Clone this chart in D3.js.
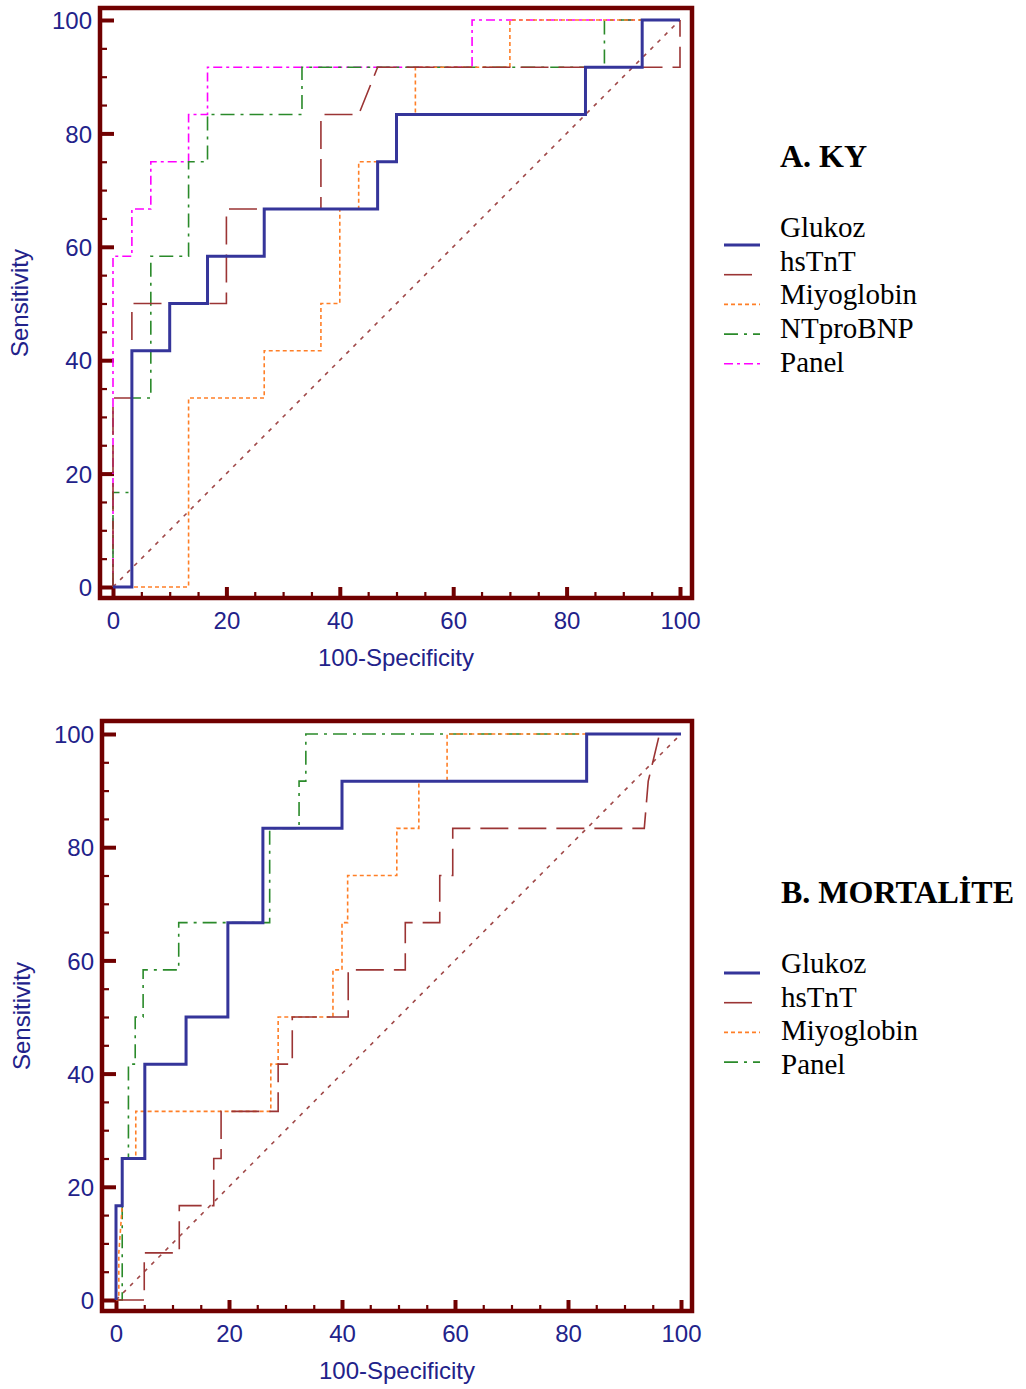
<!DOCTYPE html>
<html>
<head>
<meta charset="utf-8">
<script src="https://cdn.jsdelivr.net/npm/d3@7"></script>
<style>
  body { margin: 0; background: #fff; }
  text { font-family: "Liberation Sans", Arial, sans-serif; }
  text.serif { font-family: "Liberation Serif", "Times New Roman", serif; }
</style>
</head>
<body>
<div id="chart"></div>
<script>
// ROC curves, points are [100-Specificity, Sensitivity]

let ticksMajor = [0, 20, 40, 60, 80, 100];
let ticksMinor = d3.range(0, 101, 5);

// A. KY
let kyGlukoz = [[0,0],[3.33,0],[3.33,41.67],[10,41.67],[10,50],[16.67,50],[16.67,58.33],[26.67,58.33],
  [26.67,66.67],[46.67,66.67],[46.67,75],[50,75],[50,83.33],[83.33,83.33],[83.33,91.67],[93.33,91.67],
  [93.33,100],[100,100]];
let kyHsTnT = [[0,0],[0,33.33],[3.33,33.33],[3.33,50],[20,50],[20,66.67],[36.67,66.67],[36.67,83.33],
  [43.33,83.33],[46.67,91.67],[100,91.67],[100,100]];
let kyMiyoglobin = [[0,0],[13.33,0],[13.33,33.33],[26.67,33.33],[26.67,41.67],[36.67,41.67],[36.67,50],
  [40,50],[40,66.67],[43.33,66.67],[43.33,75],[50,75],[50,83.33],[53.33,83.33],[53.33,91.67],[70,91.67],
  [70,100],[100,100]];
let kyNTproBNP = [[0,0],[0,16.67],[3.33,16.67],[3.33,33.33],[6.67,33.33],[6.67,58.33],[13.33,58.33],
  [13.33,75],[16.67,75],[16.67,83.33],[33.33,83.33],[33.33,91.67],[86.67,91.67],[86.67,100],[100,100]];
let kyPanel = [[0,0],[0,58.33],[3.33,58.33],[3.33,66.67],[6.67,66.67],[6.67,75],[13.33,75],[13.33,83.33],
  [16.67,83.33],[16.67,91.67],[63.33,91.67],[63.33,100],[100,100]];

// B. MORTALİTE
let moGlukoz = [[0,0],[0,16.67],[1.1,16.67],[1.1,25],[5.1,25],[5.1,41.67],[12.4,41.67],[12.4,50],
  [19.8,50],[19.8,66.67],[26,66.67],[26,83.33],[40,83.33],[40,91.67],[83.3,91.67],[83.3,100],[100,100]];
let moHsTnT = [[0,0],[5,0],[5,8.33],[11.2,8.33],[11.2,16.67],[17.3,16.67],[17.3,25],[18.6,25],[18.6,33.33],
  [28.7,33.33],[28.7,41.67],[31.2,41.67],[31.2,50],[41.1,50],[41.1,58.33],[51.2,58.33],[51.2,66.67],
  [57.3,66.67],[57.3,75],[59.6,75],[59.6,83.33],[93.5,83.33],[94.2,91.67],[96.2,100],[100,100]];
let moMiyoglobin = [[0,0],[0.5,0],[0.5,8.33],[1.1,16.67],[1.1,25],[3.5,25],[3.5,33.33],[27.4,33.33],
  [27.4,41.67],[28.7,41.67],[28.7,50],[38.4,50],[38.4,58.33],[40,58.33],[40,66.67],[41,66.67],[41,75],
  [49.7,75],[49.7,83.33],[53.6,83.33],[53.6,91.67],[58.6,91.67],[58.6,100],[100,100]];
let moPanel = [[0,0],[1.1,0],[1.1,25],[2.2,25],[2.2,41.67],[3.4,41.67],[3.4,50],[4.8,50],[4.8,58.33],
  [11.1,58.33],[11.1,66.67],[27.2,66.67],[27.2,83.33],[32.4,83.33],[32.4,91.67],[33.6,91.67],[33.6,100],
  [100,100]];

let styles = {
  blue:    { color: "#35359a", width: 3,   dash: null },
  red:     { color: "#9b3434", width: 1.6, dash: "28,10" },
  orange:  { color: "#ff7f27", width: 1.6, dash: "4,3" },
  green:   { color: "#2a8a2a", width: 1.6, dash: "14,6,3,6" },
  magenta: { color: "#ff00ff", width: 1.6, dash: "9,4,3,4" }
};

let frameColor = "#700000";
let textColor = "#22228a";

let svg = d3.select("#chart").append("svg")
  .attr("width", 1026).attr("height", 1389);

function makeRoc(cfg)
{
  let g = svg.append("g");
  let xScale = d3.scaleLinear().domain([0, 100]).range(cfg.xRange);
  let yScale = d3.scaleLinear().domain([0, 100]).range(cfg.yRange);

  let left = cfg.frame[0], top = cfg.frame[1], right = cfg.frame[2], bottom = cfg.frame[3];

  // minor then major ticks, pointing into the plot
  let yMinor = g.append("g").attr("transform", "translate(" + left + ",0)")
    .call(d3.axisLeft(yScale).tickValues(ticksMinor).tickSize(-7).tickFormat(""));
  let yMajor = g.append("g").attr("transform", "translate(" + left + ",0)")
    .call(d3.axisLeft(yScale).tickValues(ticksMajor).tickSize(-14));
  let xMinor = g.append("g").attr("transform", "translate(0," + bottom + ")")
    .call(d3.axisBottom(xScale).tickValues(ticksMinor).tickSize(-6).tickFormat(""));
  let xMajor = g.append("g").attr("transform", "translate(0," + bottom + ")")
    .call(d3.axisBottom(xScale).tickValues(ticksMajor).tickSize(-11));

  [yMinor, yMajor, xMinor, xMajor].forEach(a => a.select(".domain").remove());
  yMinor.selectAll("line").attr("stroke", frameColor).attr("stroke-width", 2.2);
  xMinor.selectAll("line").attr("stroke", frameColor).attr("stroke-width", 2.2);
  yMajor.selectAll("line").attr("stroke", frameColor).attr("stroke-width", 4);
  xMajor.selectAll("line").attr("stroke", frameColor).attr("stroke-width", 4);

  yMajor.selectAll("text").attr("font-size", 24).attr("fill", textColor)
    .attr("x", -8).attr("dy", "0.36em");
  xMajor.selectAll("text").attr("font-size", 24).attr("fill", textColor)
    .attr("y", 14).attr("dy", "0.71em");

  g.append("rect")
    .attr("x", left).attr("y", top)
    .attr("width", right - left).attr("height", bottom - top)
    .attr("fill", "none").attr("stroke", frameColor).attr("stroke-width", 4.5);

  // reference diagonal
  g.append("line")
    .attr("x1", xScale(0)).attr("y1", yScale(0))
    .attr("x2", xScale(100)).attr("y2", yScale(100))
    .attr("stroke", "#a04848").attr("stroke-width", 1.6)
    .attr("stroke-dasharray", "4,6");

  let line = d3.line().x(d => xScale(d[0])).y(d => yScale(d[1]));

  cfg.series.slice().reverse().forEach(s => {
    let st = styles[s.style];
    g.append("path").datum(s.values)
      .attr("d", line)
      .attr("fill", "none")
      .attr("stroke", st.color)
      .attr("stroke-width", st.width)
      .attr("stroke-dasharray", st.dash);
  });

  // axis titles
  g.append("text").text("100-Specificity")
    .attr("x", (left + right) / 2).attr("y", bottom + 68)
    .attr("text-anchor", "middle").attr("font-size", 24).attr("fill", textColor);
  g.append("text").text("Sensitivity")
    .attr("transform", "translate(" + (cfg.yTitleX) + "," + ((top + bottom) / 2) + ")rotate(-90)")
    .attr("text-anchor", "middle").attr("font-size", 24).attr("fill", textColor);

  // legend
  g.append("text").attr("class", "serif").text(cfg.title)
    .attr("x", cfg.legendX).attr("y", cfg.titleY)
    .attr("font-weight", "bold").attr("font-size", 32).attr("fill", "#000");

  cfg.series.forEach((s, i) => {
    let st = styles[s.style];
    g.append("text").attr("class", "serif").text(s.name)
      .attr("x", cfg.legendX).attr("y", cfg.labelY + i * 33.7)
      .attr("font-size", 29).attr("fill", "#000");
    g.append("line")
      .attr("x1", 724).attr("x2", 760)
      .attr("y1", cfg.sampleY + i * 29.7).attr("y2", cfg.sampleY + i * 29.7)
      .attr("stroke", st.color).attr("stroke-width", st.width)
      .attr("stroke-dasharray", st.dash);
  });
}

makeRoc({
  xRange: [113, 680], yRange: [587, 20],
  frame: [100, 8, 692, 598],
  yTitleX: 28,
  title: "A. KY", legendX: 780, titleY: 167, labelY: 237, sampleY: 245,
  series: [
    { name: "Glukoz", style: "blue", values: kyGlukoz },
    { name: "hsTnT", style: "red", values: kyHsTnT },
    { name: "Miyoglobin", style: "orange", values: kyMiyoglobin },
    { name: "NTproBNP", style: "green", values: kyNTproBNP },
    { name: "Panel", style: "magenta", values: kyPanel }
  ]
});

makeRoc({
  xRange: [116, 681], yRange: [1300, 734],
  frame: [102, 721, 692, 1311],
  yTitleX: 30,
  title: "B. MORTALİTE", legendX: 781, titleY: 903, labelY: 973, sampleY: 973,
  series: [
    { name: "Glukoz", style: "blue", values: moGlukoz },
    { name: "hsTnT", style: "red", values: moHsTnT },
    { name: "Miyoglobin", style: "orange", values: moMiyoglobin },
    { name: "Panel", style: "green", values: moPanel }
  ]
});
</script>
</body>
</html>
